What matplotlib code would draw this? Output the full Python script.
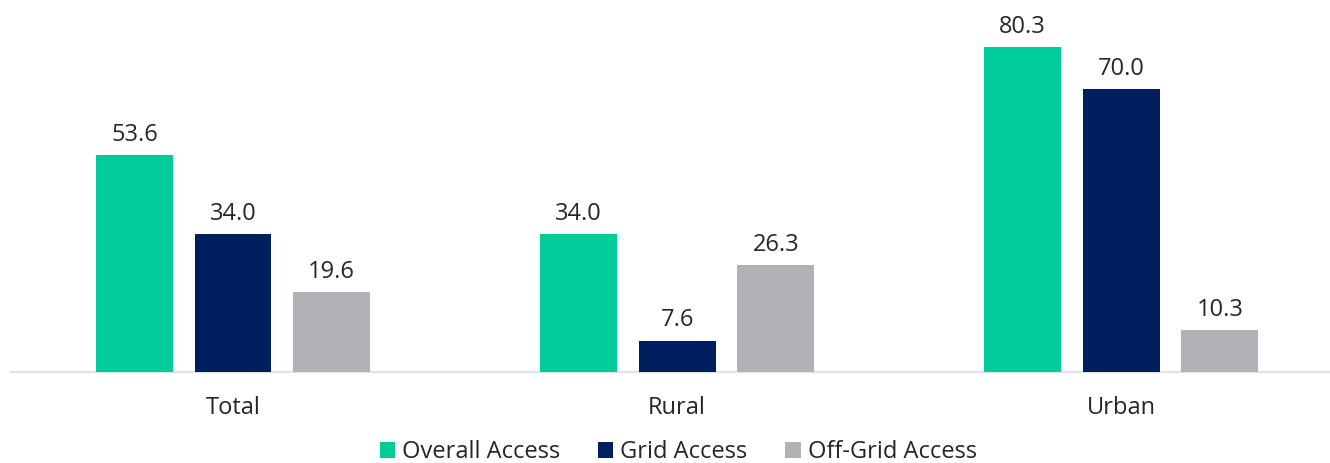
import numpy as np
import matplotlib.pyplot as plt

plt.rcParams['font.family'] = ['Open Sans', 'DejaVu Sans']

categories = ["Total", "Rural", "Urban"]
series_names = ["Overall Access", "Grid Access", "Off-Grid Access"]
overall = [53.6, 34.0, 80.3]
grid = [34.0, 7.6, 70.0]
offgrid = [19.6, 26.3, 10.3]
colors = ["#00CC99", "#001F5F", "#B1B2B6"]

W, H = 1330, 463
fig = plt.figure(figsize=(W / 100, H / 100), dpi=100)
ax = fig.add_axes([11 / W, (H - 371.5) / H, (W - 11) / W, 371.5 / H])

x = np.arange(len(categories))
width = 0.173
offset = 0.222
for i, (vals, name, c) in enumerate(zip([overall, grid, offgrid], series_names, colors)):
    bars = ax.bar(x + (i - 1) * offset, vals, width, color=c, label=name, zorder=3)
    for b, v in zip(bars, vals):
        ax.annotate(f"{v:.1f}", (b.get_x() + b.get_width() / 2, v),
                    xytext=(0, 6), textcoords="offset points",
                    ha="center", va="bottom", fontsize=17, color="#262626")

ax.set_xlim(-0.5, 2.47)
ax.set_ylim(0, 92)
for s in ["top", "right", "left"]:
    ax.spines[s].set_visible(False)
ax.spines["bottom"].set_color("#E3E3E3")
ax.spines["bottom"].set_linewidth(1.6)
ax.set_yticks([])
ax.set_xticks(x)
ax.set_xticklabels(categories, fontsize=17, color="#262626")
ax.tick_params(axis="x", length=0, pad=18)

fig.legend(loc="lower center", bbox_to_anchor=(0.51, -0.048), ncol=3, frameon=False,
           fontsize=17, handlelength=0.65, handleheight=0.65, handletextpad=0.3,
           columnspacing=1.6, labelcolor="#262626")

fig.savefig("out.png", dpi=100)
